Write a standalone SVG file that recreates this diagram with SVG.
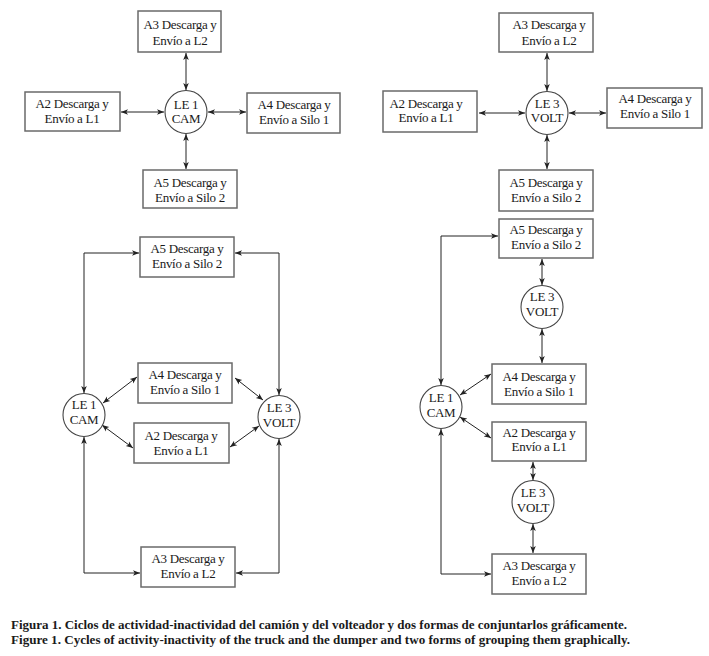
<svg xmlns="http://www.w3.org/2000/svg" width="709" height="656" viewBox="0 0 709 656">
<style>
.b{fill:#fff;stroke:#6a6a6a;stroke-width:1.5}
.c{fill:#fff;stroke:#444;stroke-width:1.1}
.t{font-family:"Liberation Serif","DejaVu Serif",serif;font-size:13px;letter-spacing:-0.3px;fill:#1a1a1a;text-anchor:middle}
.cap{font-family:"Liberation Serif","DejaVu Serif",serif;font-size:12px;font-weight:bold;fill:#1a1a1a}
.k{fill:none;stroke:#222;stroke-width:1;marker-start:url(#ah);marker-end:url(#ah)}
</style>
<defs>
<marker id="ah" viewBox="0 0 10 10" refX="10" refY="5" markerWidth="7" markerHeight="7" markerUnits="userSpaceOnUse" orient="auto-start-reverse">
<path d="M0,1 L10,5 L0,9 L2.5,5 Z" fill="#222"/>
</marker>
</defs>
<rect width="709" height="656" fill="#fff"/>

<g id="connectors">
<line class="k" x1="186" y1="53" x2="186" y2="90"/>
<line class="k" x1="121" y1="112" x2="164" y2="112"/>
<line class="k" x1="208" y1="112" x2="246" y2="112"/>
<line class="k" x1="186" y1="134" x2="186" y2="169"/>
<line class="k" x1="547" y1="53" x2="547" y2="91"/>
<line class="k" x1="479" y1="113" x2="525" y2="113"/>
<line class="k" x1="569" y1="113" x2="606" y2="113"/>
<line class="k" x1="547" y1="135" x2="547" y2="169"/>
<path class="k" d="M84,393 V253 H139"/>
<path class="k" d="M279,395 V253 H235"/>
<path class="k" d="M84,437 V573 H140"/>
<path class="k" d="M279,439 V573 H236"/>
<line class="k" x1="103" y1="403" x2="137" y2="377"/>
<line class="k" x1="102" y1="425" x2="133" y2="448"/>
<line class="k" x1="235" y1="378" x2="263" y2="400"/>
<line class="k" x1="230" y1="447" x2="259" y2="426"/>
<path class="k" d="M441,385 V236 H498"/>
<path class="k" d="M441,429 V574 H491"/>
<line class="k" x1="542" y1="259" x2="542" y2="285"/>
<line class="k" x1="542" y1="329" x2="542" y2="363"/>
<line class="k" x1="533" y1="462" x2="533" y2="480"/>
<line class="k" x1="533" y1="524" x2="533" y2="553"/>
<line class="k" x1="460" y1="395" x2="491" y2="374"/>
<line class="k" x1="460" y1="417" x2="491" y2="438"/>
</g>

<g id="tl-a3"><rect class="b" x="138" y="11" width="83" height="41"/><text class="t" x="180" y="29">A3 Descarga y</text><text class="t" x="180" y="45">Envío a L2</text></g>
<g id="tl-a2"><rect class="b" x="25" y="92" width="95" height="39"/><text class="t" x="72" y="108">A2 Descarga y</text><text class="t" x="72" y="123">Envío a L1</text></g>
<g id="tl-le1"><ellipse class="c" cx="186" cy="112" rx="21" ry="21.5"/><text class="t" x="186" y="109">LE 1</text><text class="t" x="186" y="123">CAM</text></g>
<g id="tl-a4"><rect class="b" x="247" y="93" width="93" height="40"/><text class="t" x="294" y="109">A4 Descarga y</text><text class="t" x="294" y="124">Envío a Silo 1</text></g>
<g id="tl-a5"><rect class="b" x="143" y="170" width="94" height="38"/><text class="t" x="190" y="187">A5 Descarga y</text><text class="t" x="190" y="202">Envío a Silo 2</text></g>

<g id="tr-a3"><rect class="b" x="499" y="13" width="94" height="39"/><text class="t" x="549" y="29">A3 Descarga y</text><text class="t" x="549" y="45">Envío a L2</text></g>
<g id="tr-a2"><rect class="b" x="383" y="91" width="94" height="41"/><text class="t" x="426" y="108">A2 Descarga y</text><text class="t" x="426" y="122">Envío a L1</text></g>
<g id="tr-le3"><ellipse class="c" cx="547" cy="113" rx="21" ry="21.5"/><text class="t" x="547" y="108">LE 3</text><text class="t" x="547" y="122">VOLT</text></g>
<g id="tr-a4"><rect class="b" x="607" y="88" width="95" height="40"/><text class="t" x="655" y="103">A4 Descarga y</text><text class="t" x="655" y="118">Envío a Silo 1</text></g>
<g id="tr-a5"><rect class="b" x="499" y="170" width="94" height="41"/><text class="t" x="546" y="187">A5 Descarga y</text><text class="t" x="546" y="202">Envío a Silo 2</text></g>

<g id="bl-a5"><rect class="b" x="140" y="237" width="94" height="40"/><text class="t" x="187" y="253">A5 Descarga y</text><text class="t" x="187" y="268">Envío a Silo 2</text></g>
<g id="bl-a4"><rect class="b" x="138" y="363" width="94" height="40"/><text class="t" x="185" y="379">A4 Descarga y</text><text class="t" x="185" y="394">Envío a Silo 1</text></g>
<g id="bl-a2"><rect class="b" x="134" y="423" width="95" height="40"/><text class="t" x="181" y="440">A2 Descarga y</text><text class="t" x="181" y="455">Envío a L1</text></g>
<g id="bl-a3"><rect class="b" x="141" y="547" width="94" height="40"/><text class="t" x="188" y="563">A3 Descarga y</text><text class="t" x="188" y="578">Envío a L2</text></g>
<g id="bl-le1"><ellipse class="c" cx="84" cy="415" rx="21" ry="21.5"/><text class="t" x="84" y="409">LE 1</text><text class="t" x="84" y="424">CAM</text></g>
<g id="bl-le3"><ellipse class="c" cx="279" cy="417" rx="21" ry="21.5"/><text class="t" x="279" y="412">LE 3</text><text class="t" x="279" y="427">VOLT</text></g>

<g id="br-a5"><rect class="b" x="499" y="219" width="94" height="39"/><text class="t" x="546" y="234">A5 Descarga y</text><text class="t" x="546" y="249">Envío a Silo 2</text></g>
<g id="br-le3a"><ellipse class="c" cx="542" cy="307" rx="21" ry="21.5"/><text class="t" x="542" y="301">LE 3</text><text class="t" x="542" y="316">VOLT</text></g>
<g id="br-a4"><rect class="b" x="492" y="364" width="94" height="40"/><text class="t" x="539" y="381">A4 Descarga y</text><text class="t" x="539" y="396">Envío a Silo 1</text></g>
<g id="br-le1"><ellipse class="c" cx="441" cy="407" rx="21" ry="21.5"/><text class="t" x="441" y="402">LE 1</text><text class="t" x="441" y="417">CAM</text></g>
<g id="br-a2"><rect class="b" x="492" y="422" width="94" height="39"/><text class="t" x="539" y="437">A2 Descarga y</text><text class="t" x="539" y="451">Envío a L1</text></g>
<g id="br-le3b"><ellipse class="c" cx="533" cy="502" rx="21" ry="21.5"/><text class="t" x="533" y="497">LE 3</text><text class="t" x="533" y="512">VOLT</text></g>
<g id="br-a3"><rect class="b" x="492" y="554" width="94" height="40"/><text class="t" x="539" y="570">A3 Descarga y</text><text class="t" x="539" y="585">Envío a L2</text></g>

<g id="caption">
<text class="cap" x="11" y="629" textLength="616" lengthAdjust="spacingAndGlyphs">Figura 1. Ciclos de actividad-inactividad del camión y del volteador y dos formas de conjuntarlos gráficamente.</text>
<text class="cap" x="11" y="644" textLength="619" lengthAdjust="spacingAndGlyphs">Figure 1. Cycles of activity-inactivity of the truck and the dumper and two forms of grouping them graphically.</text>
</g>
</svg>
